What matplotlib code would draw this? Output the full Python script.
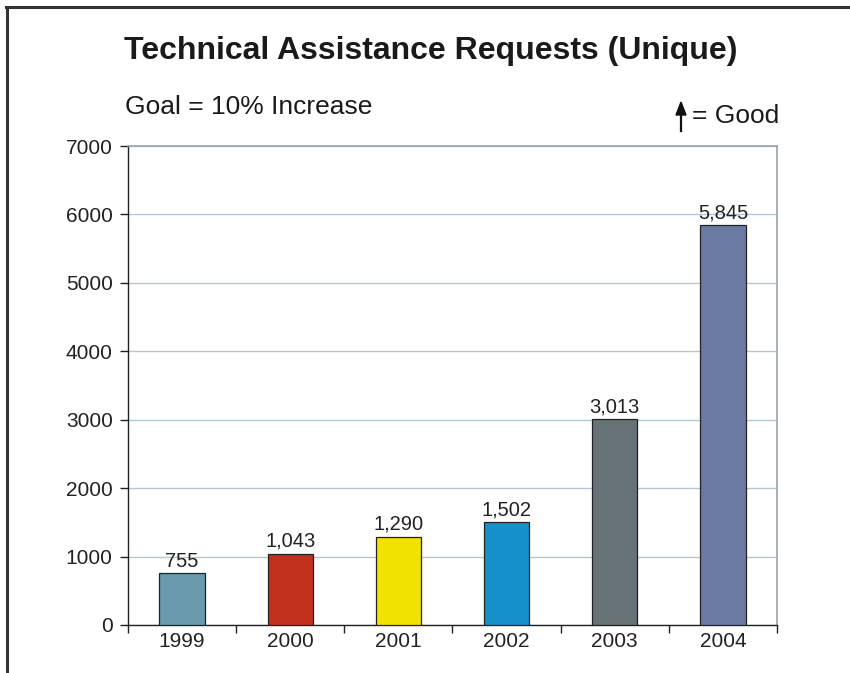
import matplotlib
matplotlib.use("Agg")
import matplotlib.pyplot as plt
from matplotlib.lines import Line2D
import numpy as np

years = ["1999", "2000", "2001", "2002", "2003", "2004"]
requests = [755, 1043, 1290, 1502, 3013, 5845]
bar_colors = ["#6a9aad", "#c0301c", "#f2e200", "#1590c8", "#677277", "#6a7aa3"]
y_ticks = [0, 1000, 2000, 3000, 4000, 5000, 6000, 7000]

plt.rcParams['font.family'] = ['Liberation Sans', 'DejaVu Sans']

W, H = 850, 673
fig = plt.figure(figsize=(W / 100, H / 100), dpi=100)
fig.patch.set_facecolor("white")

left, right, bottom, top = 128, 777, 625, 146
ax = fig.add_axes([left / W, 1 - bottom / H, (right - left) / W, (bottom - top) / H])

x = np.arange(len(years))
bars = ax.bar(x, requests, width=0.42, color=bar_colors, edgecolor="#222222",
              linewidth=0.9, zorder=3)
for b, v in zip(bars, requests):
    ax.annotate(f"{v:,}", (b.get_x() + b.get_width() / 2, v), xytext=(0, 2),
                textcoords="offset points", ha="center", va="bottom",
                fontsize=14.5, color="#222222", zorder=4)

ax.set_xlim(-0.5, len(years) - 0.5)
ax.set_ylim(0, 7000)
ax.set_yticks(y_ticks)
ax.set_yticklabels([str(t) for t in y_ticks], fontsize=15, color="#222222")
ax.set_xticks(x)
ax.set_xticklabels(years, fontsize=15, color="#222222")
ax.tick_params(axis="x", length=0, pad=5)
ax.set_xticks(np.arange(-0.5, len(years)), minor=True)
ax.tick_params(axis="x", which="minor", length=6, width=1.0, color="#222222", direction="out")
ax.tick_params(axis="y", length=6, width=1.0, color="#222222", direction="out", pad=5)

ax.grid(axis="y", color="#afc8d4", linewidth=1.0, zorder=0)
ax.set_axisbelow(True)
for s in ["top", "right"]:
    ax.spines[s].set_color("#9aa3ad")
    ax.spines[s].set_linewidth(1.2)
for s in ["left", "bottom"]:
    ax.spines[s].set_color("#222222")
    ax.spines[s].set_linewidth(1.0)

fig.text(431 / W, 1 - 51 / H, "Technical Assistance Requests (Unique)",
         ha="center", va="center", fontsize=23, fontweight="bold", color="#1a1a1a")
fig.text(125 / W, 1 - 107 / H, "Goal = 10% Increase", ha="left", va="center",
         fontsize=19, color="#1a1a1a")
fig.text(779 / W, 1 - 116 / H, "= Good", ha="right", va="center",
         fontsize=19, color="#1a1a1a")
fig.add_artist(plt.Line2D([681 / W, 681 / W], [1 - 131 / H, 1 - 112 / H],
                          color="#111111", linewidth=1.6))
fig.patches.append(plt.Polygon([[676 / W, 1 - 115 / H], [686 / W, 1 - 115 / H],
                                [681 / W, 1 - 102 / H]], closed=True,
                               transform=fig.transFigure, color="#111111"))

# outer frame (left and top)
fig.add_artist(Line2D([6.5 / W, 6.5 / W], [0, 1 - 7 / H], color="#333333", linewidth=2.2))
fig.add_artist(Line2D([5.5 / W, 1], [1 - 7 / H, 1 - 7 / H], color="#333333", linewidth=2.2))

fig.savefig("out.png", dpi=100, facecolor="white")
